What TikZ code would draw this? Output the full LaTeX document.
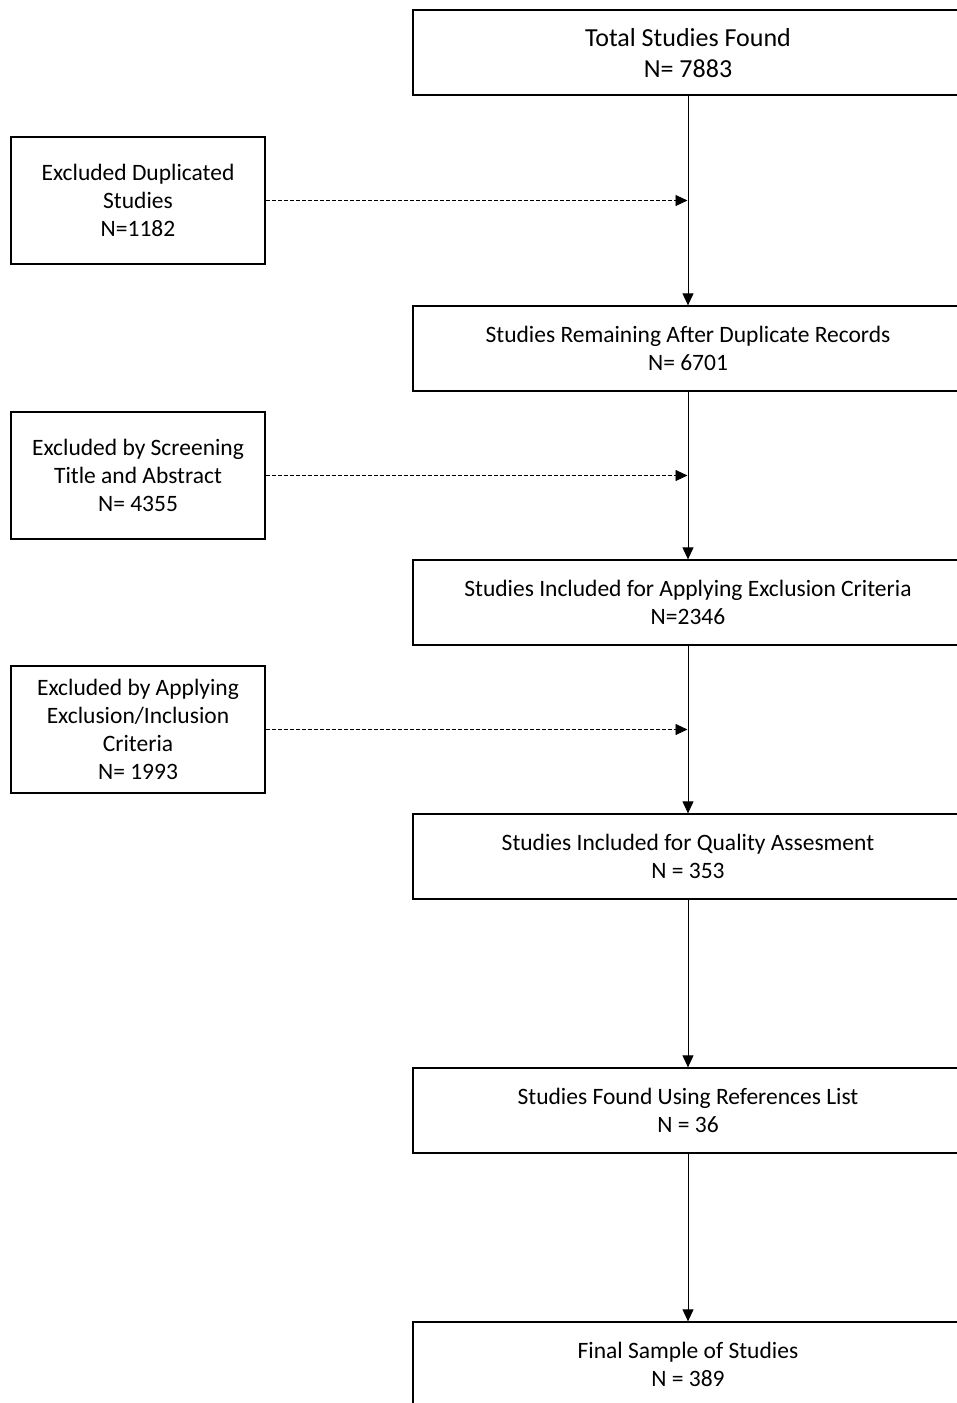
\documentclass[tikz,border=0pt]{standalone}
\usepackage{fontspec}
\setmainfont{Carlito}
\usetikzlibrary{arrows.meta}
\begin{document}
\begin{tikzpicture}[x=1pt,y=-1pt,
  box/.style={draw=black,line width=1.3pt,rectangle,align=center,inner sep=0pt,
    text depth=-1.5pt,font=\fontsize{23.5}{28}\selectfont},
  mainbox/.style={box,minimum width=550pt,minimum height=85pt},
  sidebox/.style={box,minimum width=254pt,minimum height=127pt},
  flow/.style={line width=0.9pt,-{Triangle[length=12pt,width=11pt]}},
  sideflow/.style={flow,dash pattern=on 4pt off 2pt}]
  \useasboundingbox (0,0) rectangle (957,1403);
  \clip (0,0) rectangle (957,1403);

  % main column of stages
  \node[mainbox,font=\fontsize{26}{31}\selectfont] (t1) at (688,52.5) {Total Studies Found\\N= 7883};
  \node[mainbox] (t2) at (688,348.5) {Studies Remaining After Duplicate Records\\N= 6701};
  \node[mainbox] (t3) at (688,602.5) {Studies Included for Applying Exclusion Criteria\\N=2346};
  \node[mainbox] (t4) at (688,856.5) {Studies Included for Quality Assesment\\N = 353};
  \node[mainbox] (t5) at (688,1110.5) {Studies Found Using References List\\N = 36};
  \node[mainbox] (t6) at (688,1364.5) {Final Sample of Studies\\N = 389};

  % exclusions on the left
  \node[sidebox] (e1) at (138,200.5) {Excluded Duplicated\\Studies\\N=1182};
  \node[sidebox] (e2) at (138,475.5) {Excluded by Screening\\Title and Abstract\\N= 4355};
  \node[sidebox] (e3) at (138,729.5) {Excluded by Applying\\Exclusion/Inclusion\\Criteria\\N= 1993};

  % vertical flow
  \draw[flow] (t1) -- (t2);
  \draw[flow] (t2) -- (t3);
  \draw[flow] (t3) -- (t4);
  \draw[flow] (t4) -- (t5);
  \draw[flow] (t5) -- (t6);

  % dashed exclusion links ending at the vertical line
  \coordinate (j1) at ([xshift=-0.5pt]e1 -| t1);
  \coordinate (j2) at ([xshift=-0.5pt]e2 -| t2);
  \coordinate (j3) at ([xshift=-0.5pt]e3 -| t3);
  \draw[sideflow] (e1) -- (j1);
  \draw[sideflow] (e2) -- (j2);
  \draw[sideflow] (e3) -- (j3);
\end{tikzpicture}
\end{document}
